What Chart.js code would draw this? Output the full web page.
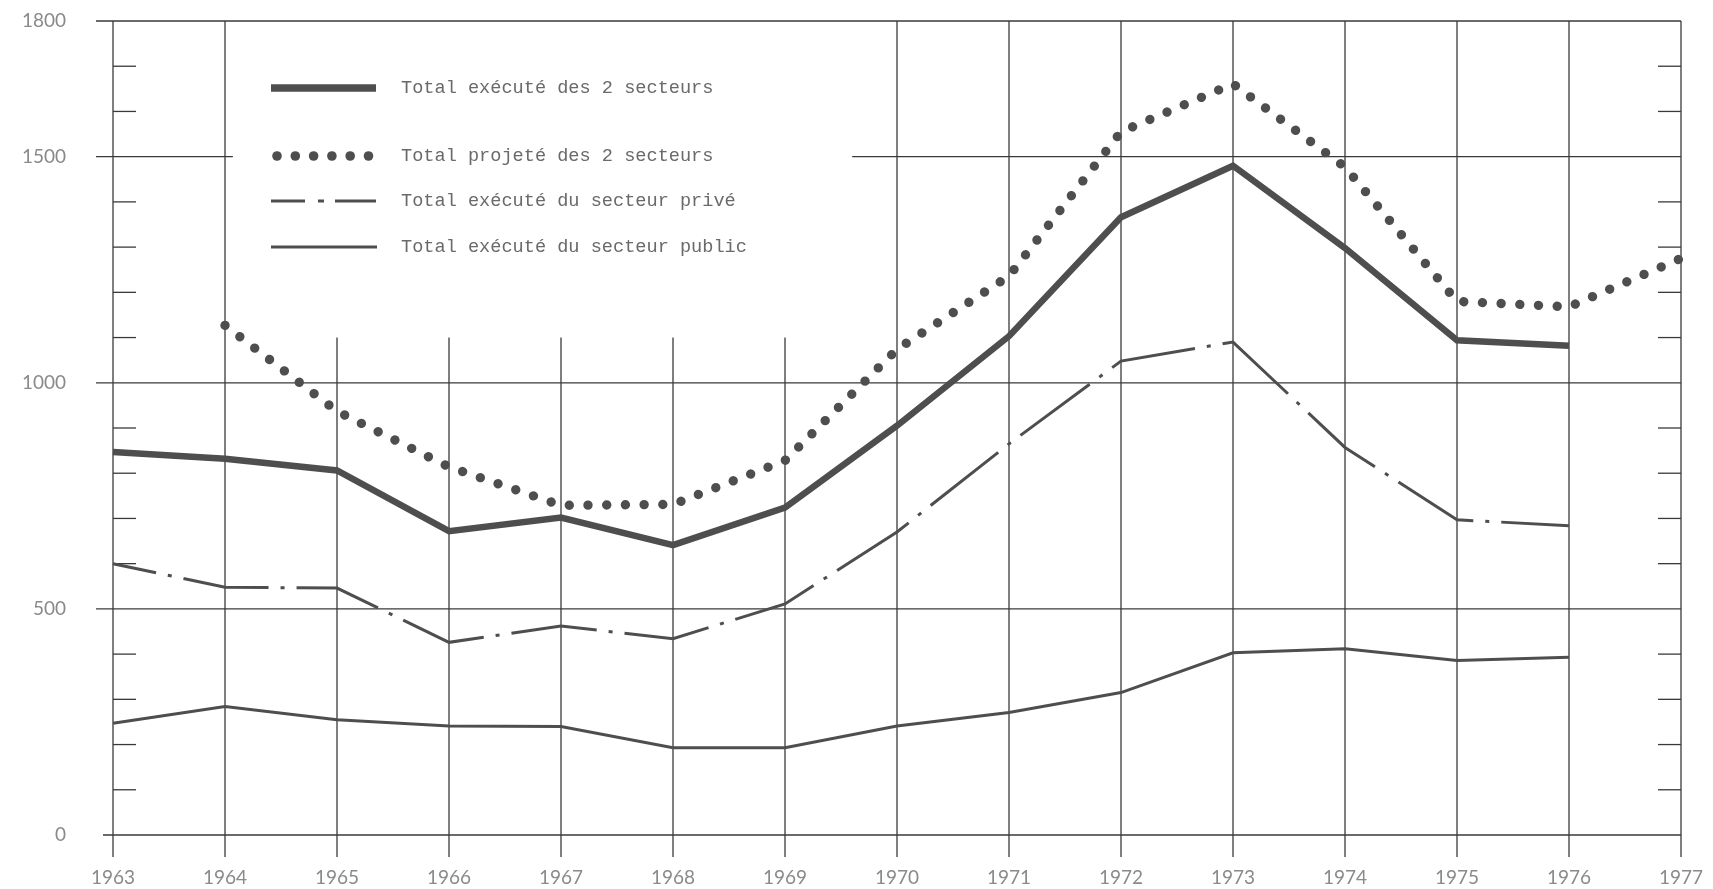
<!DOCTYPE html>
<html>
<head>
<meta charset="utf-8">
<script src="https://cdn.jsdelivr.net/npm/chart.js@4.4.1/dist/chart.umd.min.js"></script>
<style>
  html, body { margin: 0; padding: 0; background: #ffffff; }
  #wrap { width: 1713px; height: 889px; position: relative; }
</style>
</head>
<body>
<div id="wrap"><canvas id="c" width="1713" height="889"></canvas></div>
<script>
// ---- Data ----
const years = [1963, 1964, 1965, 1966, 1967, 1968, 1969, 1970, 1971, 1972, 1973, 1974, 1975, 1976, 1977];
const yTickLabels = [0, 500, 1000, 1500, 1800];
const minorTicks = [100, 200, 300, 400, 600, 700, 800, 900, 1100, 1200, 1300, 1400, 1600, 1700];
const seriesNames = [
  "Total exécuté des 2 secteurs",
  "Total projeté des 2 secteurs",
  "Total exécuté du secteur privé",
  "Total exécuté du secteur public"
];
const totalExecute = [847, 832, 806, 672, 702, 641, 724, 905, 1103, 1366, 1480, 1298, 1094, 1082, null];
const totalProjete = [null, 1127, 937, 814, 729, 731, 828, 1074, 1236, 1555, 1661, 1477, 1180, 1168, 1275];
const secteurPrive = [600, 548, 546, 426, 462, 434, 511, 670, 865, 1048, 1090, 857, 697, 684, null];
const secteurPublic = [247, 284, 255, 241, 240, 193, 193, 241, 271, 315, 403, 412, 386, 393, null];

const toPoints = arr => years.map((yr, i) => ({ x: yr, y: arr[i] }));

const INK = '#4e4e4e';
const GRID = '#3a3a3a';
const LABEL = '#8a8a8a';

const gridPlugin = {
  id: 'paperGrid',
  beforeDatasetsDraw(chart) {
    const { ctx, chartArea: a, scales: { x, y } } = chart;
    ctx.save();
    ctx.strokeStyle = GRID;
    ctx.lineWidth = 1.3;
    ctx.lineCap = 'butt';
    const line = (x1, y1, x2, y2) => { ctx.beginPath(); ctx.moveTo(x1, y1); ctx.lineTo(x2, y2); ctx.stroke(); };
    yTickLabels.forEach(v => {
      const py = y.getPixelForValue(v);
      const x0 = a.left - (v === 0 ? 10 : 17);
      if (v === 1500) {
        line(x0, py, x.getPixelForValue(1964.07), py);
        line(x.getPixelForValue(1969.6), py, a.right, py);
      } else {
        line(x0, py, a.right, py);
      }
    });
    years.forEach(yr => {
      const px = x.getPixelForValue(yr);
      const top = (yr >= 1965 && yr <= 1969) ? y.getPixelForValue(1100) : a.top;
      line(px, a.bottom + 22, px, top);
    });
    minorTicks.forEach(v => {
      const py = y.getPixelForValue(v);
      line(a.left, py, a.left + 23, py);
      line(a.right - 23, py, a.right, py);
    });
    ctx.restore();
  }
};

const legendPlugin = {
  id: 'paperLegend',
  afterDatasetsDraw(chart) {
    const { ctx } = chart;
    const x1 = 271, x2 = 376, tx = 401;
    const rows = [88, 156, 201, 247];
    ctx.save();
    ctx.strokeStyle = INK;
    ctx.fillStyle = INK;
    ctx.lineWidth = 7.5; ctx.setLineDash([]);
    ctx.beginPath(); ctx.moveTo(x1, rows[0]); ctx.lineTo(x2, rows[0]); ctx.stroke();
    for (let i = 0; i < 6; i++) {
      ctx.beginPath(); ctx.arc(277 + i * 18.3, rows[1], 4.8, 0, Math.PI * 2); ctx.fill();
    }
    ctx.lineWidth = 3; ctx.setLineDash([34, 13, 6, 11, 41]);
    ctx.beginPath(); ctx.moveTo(x1, rows[2]); ctx.lineTo(x2, rows[2]); ctx.stroke();
    ctx.setLineDash([]);
    ctx.beginPath(); ctx.moveTo(x1, rows[3]); ctx.lineTo(x2 + 1, rows[3]); ctx.stroke();
    ctx.fillStyle = '#6a6a6a';
    ctx.font = '18.6px "Liberation Mono", "DejaVu Sans Mono", monospace';
    ctx.textBaseline = 'middle';
    ctx.textAlign = 'left';
    seriesNames.forEach((n, i) => ctx.fillText(n, tx, rows[i]));
    ctx.restore();
  }
};

new Chart(document.getElementById('c'), {
  type: 'line',
  data: {
    datasets: [
      { label: seriesNames[0], data: toPoints(totalExecute), borderColor: INK, borderWidth: 6.5,
        pointRadius: 0, tension: 0, borderJoinStyle: 'miter', clip: false },
      { label: seriesNames[1], data: toPoints(totalProjete), borderColor: INK, borderWidth: 9.4,
        borderDash: [0.01, 18.7], borderCapStyle: 'round', pointRadius: 0, tension: 0, clip: false },
      { label: seriesNames[2], data: toPoints(secteurPrive), borderColor: INK, borderWidth: 3,
        borderDash: [86, 12, 4, 12], borderDashOffset: 42, pointRadius: 0, tension: 0, clip: false },
      { label: seriesNames[3], data: toPoints(secteurPublic), borderColor: INK, borderWidth: 3,
        pointRadius: 0, tension: 0, clip: false }
    ]
  },
  options: {
    responsive: false,
    animation: false,
    devicePixelRatio: 1,
    layout: { autoPadding: false, padding: { top: 21, right: 32, left: 0, bottom: 0 } },
    plugins: { legend: { display: false }, tooltip: { enabled: false } },
    scales: {
      x: {
        type: 'linear', min: 1963, max: 1977,
        grid: { display: false, drawTicks: false }, border: { display: false },
        afterBuildTicks: s => { s.ticks = years.map(v => ({ value: v })); },
        ticks: { autoSkip: false, maxRotation: 0, padding: 31, color: LABEL,
          font: { family: 'Lato', size: 19 }, callback: v => String(v) },
        afterFit: s => { s.height = 54; s.paddingLeft = 0; s.paddingRight = 0; }
      },
      y: {
        min: 0, max: 1800,
        grid: { display: false, drawTicks: false }, border: { display: false },
        afterBuildTicks: s => { s.ticks = yTickLabels.map(v => ({ value: v })); },
        ticks: { padding: 47, color: LABEL, font: { family: 'Lato', size: 19 }, callback: v => String(v) },
        afterFit: s => { s.width = 113; s.paddingTop = 0; s.paddingBottom = 0; }
      }
    }
  },
  plugins: [gridPlugin, legendPlugin]
});
</script>
</body>
</html>
